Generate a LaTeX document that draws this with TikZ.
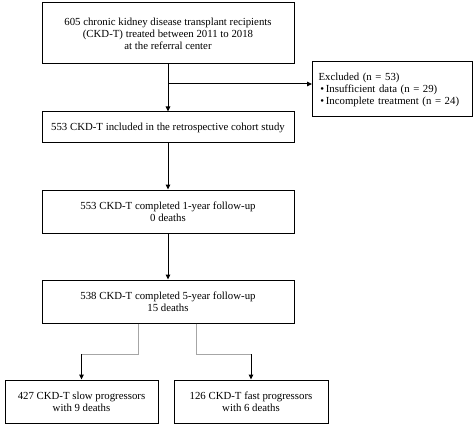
\documentclass[tikz,border=0pt]{standalone}
\usepackage{fontspec}
\setmainfont{Liberation Serif}
\usetikzlibrary{arrows.meta,calc}
\begin{document}
\begin{tikzpicture}[x=1pt,y=-1pt,
  box/.style={draw=black,line width=1pt,align=center,inner sep=2pt,font=\fontsize{10.8}{12}\selectfont},
  arr/.style={line width=1pt,-{Triangle[length=5pt,width=4.5pt]}},
  gline/.style={draw=black!35,line width=1pt}]
\useasboundingbox (0,0) rectangle (474,425);
\node[box,minimum width=252pt,minimum height=61pt] (b1) at (168,33.5)
  {605 chronic kidney disease transplant recipients\\(CKD-T) treated between 2011 to 2018\\at the referral center};
\node[box,minimum width=252pt,minimum height=31pt] (b2) at (168,127.5)
  {553 CKD-T included in the retrospective cohort study};
\node[box,minimum width=252pt,minimum height=43pt] (b3) at (168,211.5)
  {553 CKD-T completed 1-year follow-up\\0 deaths};
\node[box,minimum width=252pt,minimum height=43pt] (b4) at (168,301.5)
  {538 CKD-T completed 5-year follow-up\\15 deaths};
\node[box,minimum width=160pt,minimum height=55pt,align=left,text width=148pt,inner xsep=6pt] (ex) at (392.5,89.5)
  {Excluded (n = 53)\\\,•\,Insufficient data (n = 29)\\\,•\,Incomplete treatment (n = 24)};
\node[box,minimum width=153pt,minimum height=43pt] (b5) at (81.5,401.5)
  {427 CKD-T slow progressors\\with 9 deaths};
\node[box,minimum width=154pt,minimum height=43pt] (b6) at (251,401.5)
  {126 CKD-T fast progressors\\with 6 deaths};
\draw[arr] (b1.south) -- (b2.north);
\coordinate (br) at (168,84);
\draw[arr] (br) -- (ex.west |- br);
\draw[arr] (b2.south) -- (b3.north);
\draw[arr] (b3.south) -- (b4.north);
\coordinate (k1) at (81.5,354);
\coordinate (k2) at (251,354);
\draw[gline] ([xshift=-30pt]b4.south) |- (k1);
\draw[gline] ([xshift=28pt]b4.south) |- (k2);
\draw[arr] (k1) -- (b5.north);
\draw[arr] (k2) -- (b6.north);
\end{tikzpicture}
\end{document}
